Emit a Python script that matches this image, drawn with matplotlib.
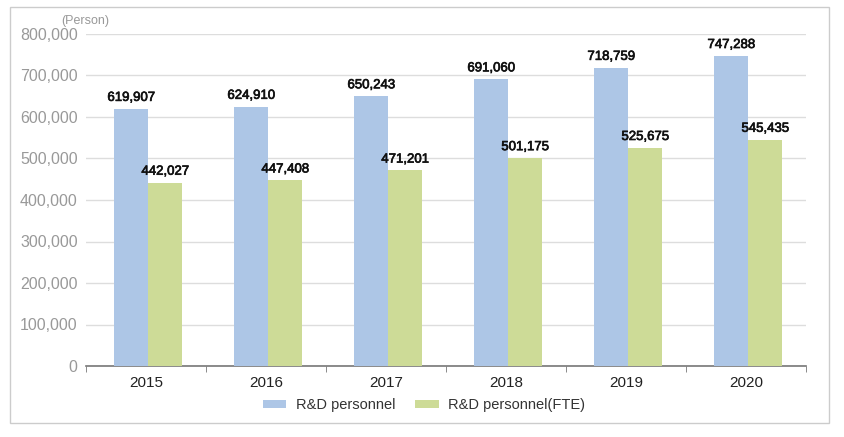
import numpy as np
import matplotlib.pyplot as plt
import matplotlib.patheffects as pe
from matplotlib.patches import Rectangle

years = ['2015', '2016', '2017', '2018', '2019', '2020']
personnel = [619907, 624910, 650243, 691060, 718759, 747288]
personnel_fte = [442027, 447408, 471201, 501175, 525675, 545435]

blue = '#adc6e6'
green = '#cddb97'

plt.rcParams['font.family'] = ['Liberation Sans', 'DejaVu Sans']

fig = plt.figure(figsize=(8.44, 4.37), dpi=100)
ax = fig.add_axes([86/844, 1-366/437, 720/844, 332/437])

x = np.arange(len(years))
w = 0.283
shift = 0.02
b1 = ax.bar(x + shift - w/2, personnel, w, color=blue, label='R&D personnel', zorder=3)
b2 = ax.bar(x + shift + w/2, personnel_fte, w, color=green, label='R&D personnel(FTE)', zorder=3)

for bars in (b1, b2):
    for r in bars:
        h = r.get_height()
        ax.annotate(f'{h:,.0f}', (r.get_x() + r.get_width()/2, h), xytext=(0, 3.5),
                    textcoords='offset points', ha='center', va='bottom',
                    fontsize=9.5, color='#111111',
                    path_effects=[pe.withStroke(linewidth=0.5, foreground='#111111')])

ax.set_xlim(-0.5, len(years) - 0.5)
ax.set_ylim(0, 800000)
ax.set_yticks(np.arange(0, 800001, 100000))
ax.set_yticklabels([f'{v:,}' for v in range(0, 800001, 100000)], fontsize=11.5, color='#999999')
ax.yaxis.grid(True, color='#dddddd', linewidth=1, zorder=0)
ax.tick_params(axis='y', length=0, pad=6)

ax.set_xticks(x)
ax.set_xticklabels(years, fontsize=11, color='#222222')
ax.set_xticks(np.arange(-0.5, len(years)), minor=True)
ax.tick_params(axis='x', which='major', length=0, pad=7)
ax.tick_params(axis='x', which='minor', length=4, color='#777777', direction='out')

for s in ('top', 'right', 'left'):
    ax.spines[s].set_visible(False)
ax.spines['bottom'].set_color('#777777')
ax.spines['bottom'].set_linewidth(1.2)

fig.text(61/844, 1-21/437, '(Person)', fontsize=9, color='#999999', ha='left', va='center')

fig.legend(handles=[b1, b2], loc='center', bbox_to_anchor=(424/844, 1-405/437), ncol=2,
           frameon=False, fontsize=10.5, handlelength=1.6, handleheight=0.5,
           handletextpad=0.65, columnspacing=1.4, labelcolor='#333333')

fig.patches.append(Rectangle((10/844, 1-423/437), 819/844, 416/437, transform=fig.transFigure,
                             fill=False, edgecolor='#cccccc', linewidth=1))

fig.savefig('out.png', dpi=100)
